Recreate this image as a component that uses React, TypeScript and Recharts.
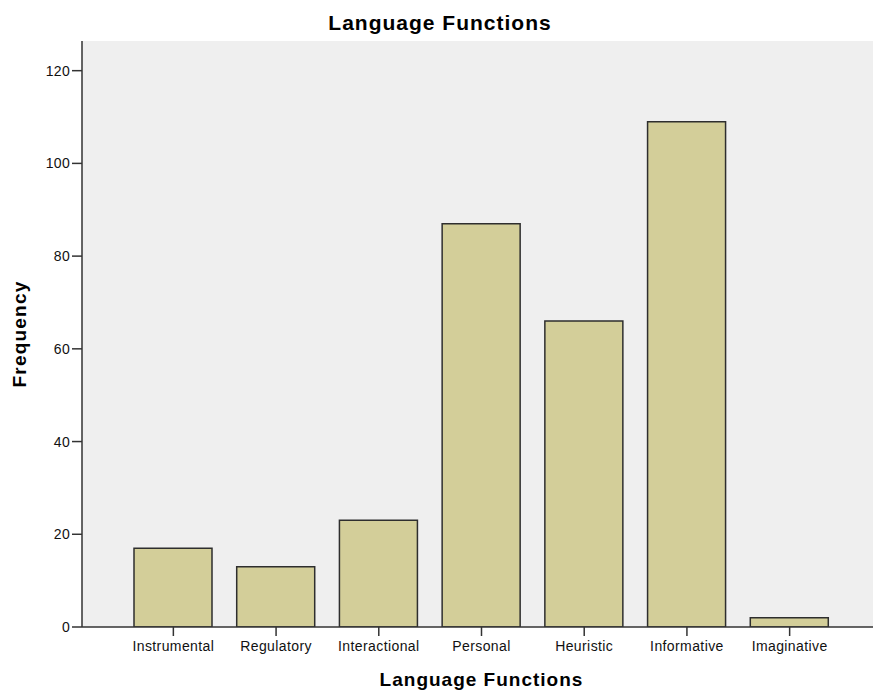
import { BarChart, Bar, XAxis, YAxis, CartesianGrid, Label } from "recharts";

const categories = [
  "Instrumental",
  "Regulatory",
  "Interactional",
  "Personal",
  "Heuristic",
  "Informative",
  "Imaginative",
];
const frequencies = [17, 13, 23, 87, 66, 109, 2];
const yTicks = [0, 20, 40, 60, 80, 100, 120];

const chartData = categories.map((name, i) => ({ name, value: frequencies[i] }));

const FONT = '"Liberation Sans", Arial, sans-serif';

export default function App() {
  return (
    <div
      style={{
        position: "absolute",
        left: 0,
        top: 0,
        width: 873,
        height: 690,
        overflow: "hidden",
        background: "#ffffff",
        fontFamily: FONT,
      }}
    >
      <div
        style={{
          position: "absolute",
          left: 0,
          width: 880,
          top: 11,
          textAlign: "center",
          fontSize: 21,
          fontWeight: "bold",
          letterSpacing: 1,
          color: "#000",
          lineHeight: "24px",
        }}
      >
        Language Functions
      </div>
      <BarChart
        width={890}
        height={690}
        data={chartData}
        margin={{ top: 41, right: 9, bottom: 0, left: 0 }}
      >
        <CartesianGrid fill="#efefef" horizontal={false} vertical={false} />
        <XAxis
          dataKey="name"
          height={63}
          padding={{ left: 40, right: 40 }}
          axisLine={{ stroke: "#333", strokeWidth: 1.5 }}
          tickLine={{ stroke: "#333", strokeWidth: 1.5 }}
          tickSize={9}
          tickMargin={5}
          interval={0}
          tick={{ fill: "#111", fontSize: 14, fontFamily: FONT, letterSpacing: 0.4 }}
        >
          <Label
            content={({ viewBox }: any) => (
              <text
                x={viewBox.x + viewBox.width / 2}
                y={viewBox.y + 59}
                textAnchor="middle"
                fontSize={19}
                fontWeight="bold"
                letterSpacing={1}
                fontFamily={FONT}
                fill="#000"
              >
                Language Functions
              </text>
            )}
          />
        </XAxis>
        <XAxis
          xAxisId="top"
          orientation="top"
          dataKey="name"
          height={0}
          tick={false}
          tickLine={false}
          axisLine={{ stroke: "#6a6a6a", strokeWidth: 2 }}
        />
        <YAxis
          width={82}
          domain={[0, 126.4]}
          ticks={yTicks}
          allowDataOverflow
          axisLine={{ stroke: "#333", strokeWidth: 1.5 }}
          tickLine={{ stroke: "#333", strokeWidth: 1.5 }}
          tickSize={10}
          tickMargin={2}
          tick={{ fill: "#111", fontSize: 14, fontFamily: FONT, letterSpacing: 0.3 }}
        >
          <Label
            content={({ viewBox }: any) => {
              const cx = 26;
              const cy = viewBox.y + viewBox.height / 2;
              return (
                <text
                  x={cx}
                  y={cy}
                  transform={`rotate(-90, ${cx}, ${cy})`}
                  textAnchor="middle"
                  fontSize={19}
                  fontWeight="bold"
                  letterSpacing={1.2}
                  fontFamily={FONT}
                  fill="#000"
                >
                  Frequency
                </text>
              );
            }}
          />
        </YAxis>
        <Bar
          dataKey="value"
          barSize={78}
          fill="#d3ce99"
          stroke="#2e2e2e"
          strokeWidth={1.5}
          isAnimationActive={false}
        />
      </BarChart>
    </div>
  );
}
